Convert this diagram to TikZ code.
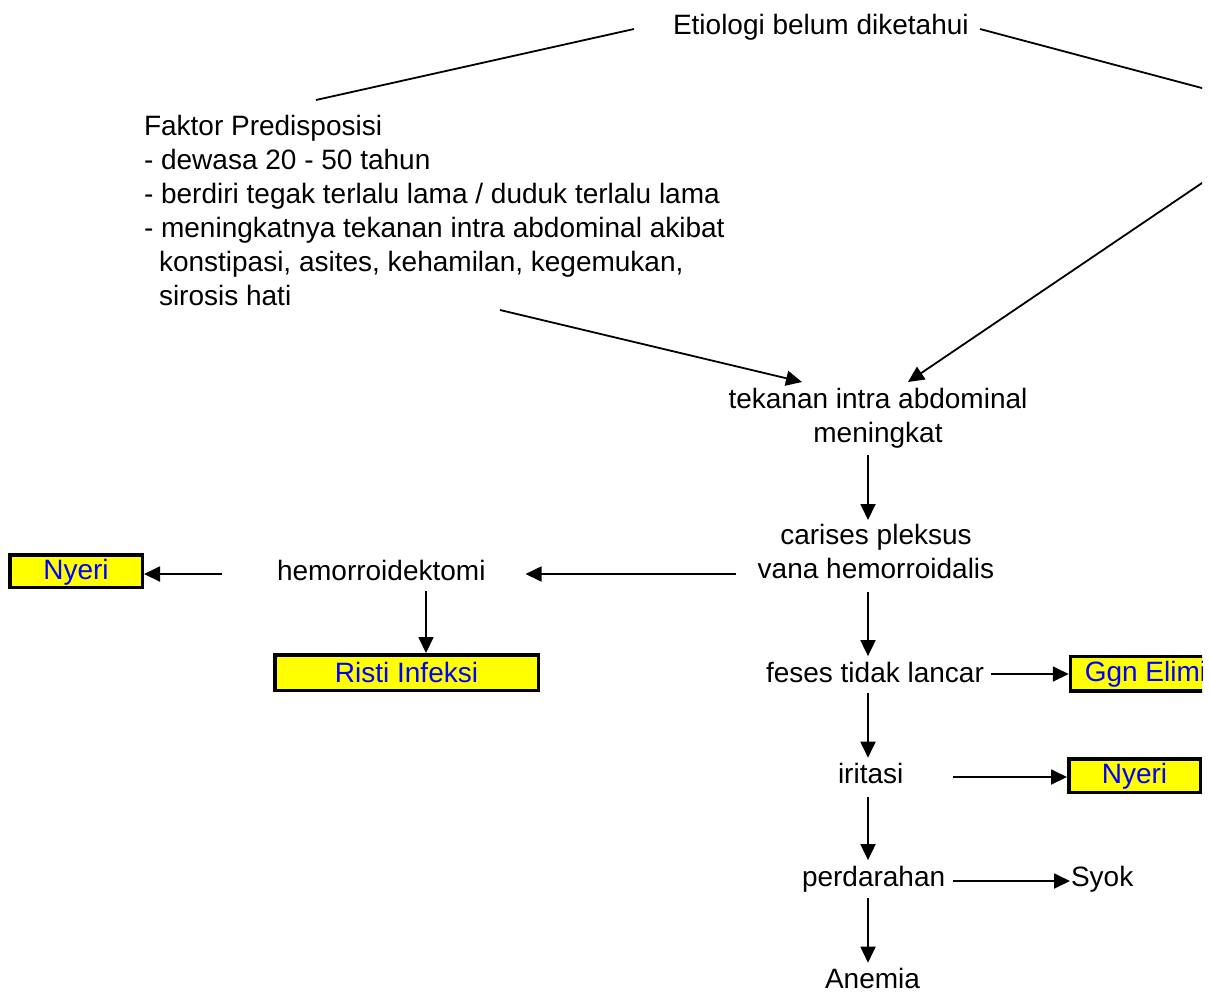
\documentclass[tikz,border=0pt]{standalone}
\usepackage{fontspec}
\setmainfont{Liberation Sans}
\usetikzlibrary{arrows.meta}
\definecolor{boxyellow}{RGB}{255,255,0}
\definecolor{boxblue}{RGB}{0,0,255}
\begin{document}
\begin{tikzpicture}[x=1pt,y=-1pt,
  txt/.style={inner sep=0pt,outer sep=0pt,font=\fontsize{28}{34}\selectfont},
  box/.style={draw=black,line width=3.5pt,fill=boxyellow,text=boxblue,inner sep=0pt,
    font=\fontsize{28}{34}\selectfont},
  arr/.style={line width=1.8pt,-{Triangle[length=16pt,width=15pt]}},
  ln/.style={line width=1.8pt}]
\useasboundingbox (0,0) rectangle (1210,994);
\begin{scope}
\clip (0,0) rectangle (1202,994);
% column / row helpers
\coordinate (colx) at (868,0);
\coordinate (hemox) at (426,0);
\coordinate (row1) at (0,574);
\coordinate (row2) at (0,674);
\coordinate (row3) at (0,777);
\coordinate (row4) at (0,881);
% text nodes
\node[txt,anchor=base west] (etio) at (673,34) {Etiologi belum diketahui};
\node[txt,anchor=north west,align=left] (faktor) at (144,115.6) {Faktor Predisposisi\\
- dewasa 20 - 50 tahun\\
- berdiri tegak terlalu lama / duduk terlalu lama\\
- meningkatnya tekanan intra abdominal akibat\\
\hspace*{15pt}konstipasi, asites, kehamilan, kegemukan,\\
\hspace*{15pt}sirosis hati};
\node[txt,anchor=north,align=center] (tek) at (878,388.6) {tekanan intra abdominal\\meningkat};
\node[txt,anchor=north,align=center] (car) at (876,524.6) {carises pleksus\\vana hemorroidalis};
\node[txt,anchor=base west] (hemo) at (277,580) {hemorroidektomi};
\node[txt,anchor=base west] (feses) at (766,682) {feses tidak lancar};
\node[txt,anchor=base west] (iritasi) at (838,783) {iritasi};
\node[txt,anchor=base west] (perd) at (802,886) {perdarahan};
\node[txt,anchor=base west] (syok) at (1071,886) {Syok};
\node[txt,anchor=base west] (anemia) at (825,988) {Anemia};
% boxes
\node[box,minimum width=132.5pt,minimum height=32.5pt,text depth=4pt] (nyeriL) at (76,571) {Nyeri};
\node[box,minimum width=263.5pt,minimum height=35.5pt] (risti) at (406.5,672.5) {Risti Infeksi};
\node[box,anchor=north west,minimum height=34.5pt,inner xsep=14.25pt] (ggn) at (1068.75,654.75) {Ggn Elimi};
\node[box,minimum width=131.5pt,minimum height=33.5pt,text depth=4pt] (nyeriR) at (1134.5,775.5) {Nyeri};
% free line ends
\coordinate (e1) at (634,29);
\coordinate (f1) at (316,100);
\coordinate (e2) at (980,29);
\coordinate (r1) at (1215,91.5);
\coordinate (r2) at (1215,174.2);
\coordinate (t1) at (908,382);
\coordinate (f2) at (500,310);
\coordinate (t2) at (802,382);
% connectors
\draw[ln] (e1) -- (f1);
\draw[ln] (e2) -- (r1);
\draw[arr] (r2) -- (t1);
\draw[arr] (f2) -- (t2);
\draw[arr,shorten <=6pt,shorten >=4.6pt] (tek.south -| colx) -- (car.north -| colx);
\draw[arr,shorten <=22pt,shorten >=40pt] (car.west |- row1) -- (hemo.east |- row1);
\draw[arr,shorten <=55pt] (hemo.west |- row1) -- (nyeriL.east |- row1);
\draw[arr,shorten <=11pt] (hemo.south -| hemox) -- (risti.north -| hemox);
\draw[arr,shorten <=13pt,shorten >=5.6pt] (car.south -| colx) -- (feses.north -| colx);
\draw[arr,shorten <=7pt] (feses.east |- row2) -- (ggn.west |- row2);
\draw[arr,shorten <=11pt,shorten >=5pt] (feses.south -| colx) -- (iritasi.north -| colx);
\draw[arr,shorten <=50pt] (iritasi.east |- row3) -- (nyeriR.west |- row3);
\draw[arr,shorten <=14pt,shorten >=5.6pt] (iritasi.south -| colx) -- (perd.north -| colx);
\draw[arr,shorten <=8pt,shorten >=1pt] (perd.east |- row4) -- (syok.west |- row4);
\draw[arr,shorten <=6pt,shorten >=5pt] (perd.south -| colx) -- (anemia.north -| colx);
\end{scope}
\end{tikzpicture}
\end{document}
